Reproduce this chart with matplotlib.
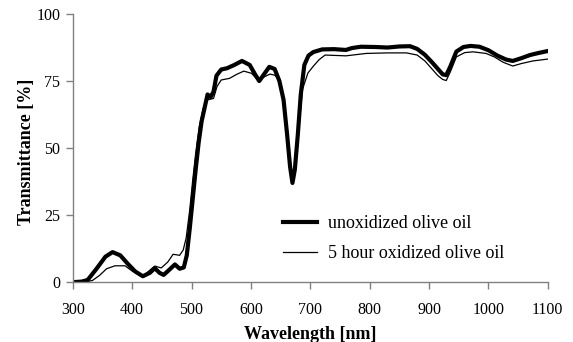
import matplotlib
matplotlib.use("Agg")
import matplotlib.pyplot as plt

plt.rcParams['font.family'] = ['Liberation Serif', 'DejaVu Serif']

wl_unox = [300, 315, 325, 340, 355, 367, 380, 392, 405, 418, 430, 438, 446, 453, 462, 472, 480, 487, 492, 497,
           502, 507, 512, 517, 522, 527, 532, 537, 542, 550, 560, 572, 585, 598, 607, 614, 622, 631, 640, 648,
           655, 661, 666, 670, 674, 679, 684, 690, 697, 705, 720, 740, 760, 770, 785, 810, 830, 850, 868, 880,
           893, 905, 915, 923, 929, 936, 946, 958, 970, 985, 1000, 1015, 1030, 1041, 1055, 1070, 1085, 1100]
t_unox = [0, 0.2, 0.8, 5, 9.5, 11.2, 10, 7, 4, 2.2, 3.5, 5.2, 3.5, 2.7, 4.5, 6.6, 5, 5.5, 10, 20,
          31, 42, 52, 60, 65, 70, 69, 71, 77, 79.3, 79.8, 81, 82.5, 81, 77.5, 75, 77.5, 80.3, 79.5, 75,
          68, 55, 43, 37, 42, 55, 70, 81, 84.5, 85.8, 86.8, 86.9, 86.6, 87.3, 87.8, 87.7, 87.5, 87.9, 88, 87,
          84.8, 82, 79.5, 77.5, 77.2, 80.5, 86, 87.7, 88.1, 87.8, 86.5, 84.5, 83, 82.5, 83.5, 84.7, 85.5, 86.2]

wl_ox = [300, 320, 333, 345, 357, 371, 388, 401, 418, 430, 438, 449, 460, 469, 480, 486, 491, 497, 502, 507,
         513, 520, 527, 533, 537, 543, 550, 564, 576, 588, 601, 607, 614, 622, 632, 640, 646, 652, 658, 663,
         668, 671, 675, 680, 687, 696, 705, 715, 725, 760, 794, 830, 862, 880, 893, 905, 915, 923, 929, 936,
         946, 960, 974, 996, 1010, 1025, 1041, 1055, 1075, 1100]
t_ox = [0, 0.1, 0.6, 2.5, 5, 6.1, 6.1, 4, 2.2, 4.5, 6, 5.3, 7.5, 10.4, 10, 12, 16.5, 27, 38, 48,
        58, 65, 68, 68.3, 68.5, 73, 75.4, 76, 77.5, 78.7, 77.9, 76.5, 75, 76.5, 77.6, 77.2, 76, 72, 63, 52,
        41, 37.5, 42, 56, 72, 78, 80.5, 83, 84.7, 84.4, 85.3, 85.5, 85.5, 84.7, 82.5, 79.5, 77, 75.6, 75.2, 78.5,
        84, 85.6, 85.9, 85.3, 84, 82, 80.6, 81.5, 82.5, 83.2]

x_ticks = [300, 400, 500, 600, 700, 800, 900, 1000, 1100]
y_ticks = [0, 25, 50, 75, 100]

fig = plt.figure(figsize=(5.73, 3.42), dpi=100)
ax = fig.add_axes([0.127, 0.175, 0.829, 0.784])

ax.plot(wl_unox, t_unox, color='black', lw=3.0, solid_joinstyle='round', label='unoxidized olive oil')
ax.plot(wl_ox, t_ox, color='black', lw=0.9, solid_joinstyle='round', label='5 hour oxidized olive oil')

ax.set_xlim(300, 1100)
ax.set_ylim(0, 100)
ax.set_xticks(x_ticks)
ax.set_yticks(y_ticks)
for s in ['top', 'right']:
    ax.spines[s].set_visible(False)
for s in ['left', 'bottom']:
    ax.spines[s].set_color('#808080')
    ax.spines[s].set_linewidth(1.0)
ax.tick_params(axis='both', direction='out', length=5, width=1.0, color='#808080', labelsize=11.5)
ax.tick_params(axis='x', pad=9)
ax.tick_params(axis='y', pad=4)
ax.set_xlabel('Wavelength [nm]', fontsize=13, fontweight='bold', labelpad=6)
ax.set_ylabel('Transmittance [%]', fontsize=13, fontweight='bold', labelpad=1)
ax.yaxis.set_label_coords(-0.08, 0.485)

leg = ax.legend(loc='upper left', bbox_to_anchor=(0.442, 0.25), frameon=False, fontsize=13,
                handlelength=1.9, handletextpad=0.6, labelspacing=0.72,
                borderpad=0, borderaxespad=0)

fig.savefig('out.png', dpi=100)
